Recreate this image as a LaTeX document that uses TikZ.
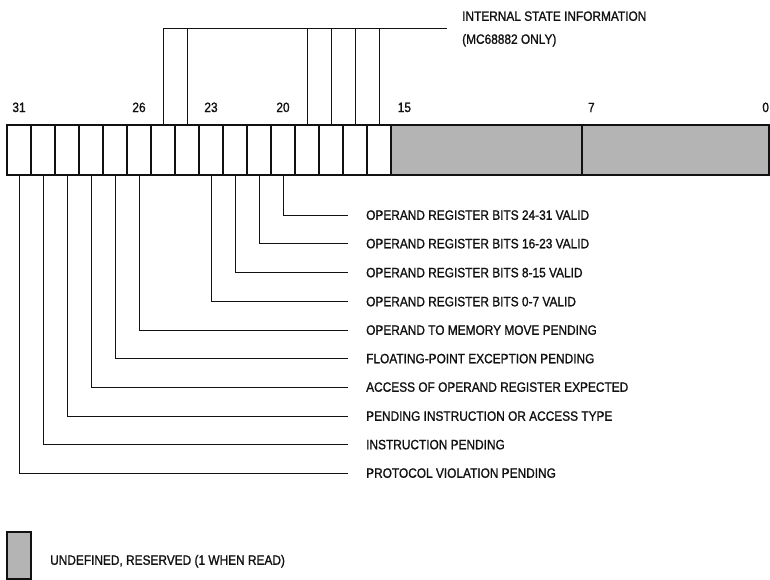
\documentclass[tikz,border=0pt]{standalone}
\usepackage{fontspec}
\setmainfont{Liberation Sans}[FakeStretch=0.88, FakeBold=1.2]
\usepackage{tikz}
\usetikzlibrary{positioning,calc}
\definecolor{reserved}{HTML}{B4B4B4}
\definecolor{ink}{HTML}{111111}

\tikzset{
  cell/.style={rectangle, draw=ink, line width=1.3pt, minimum width=24pt, minimum height=50pt, inner sep=0pt},
  undef/.style={cell, fill=reserved},
  bitno/.style={inner sep=0pt, font=\fontsize{13.5}{15}\selectfont, text=ink},
  field/.style={anchor=west, inner sep=0pt, text height=9.5pt, text depth=0pt, font=\fontsize{13.5}{15}\selectfont, text=ink},
  leader/.style={draw=ink, line width=1pt, shorten >=18pt}
}

\begin{document}
\begin{tikzpicture}[x=1pt, y=-1pt]
    \useasboundingbox (0,0) rectangle (770,580);

    % bits 31..16
    \node[cell] (b31) at (19,150) {};
    \node[cell] (b30) at (43,150) {};
    \node[cell] (b29) at (67,150) {};
    \node[cell] (b28) at (91,150) {};
    \node[cell] (b27) at (115,150) {};
    \node[cell] (b26) at (139,150) {};
    \node[cell] (b25) at (163,150) {};
    \node[cell] (b24) at (187,150) {};
    \node[cell] (b23) at (211,150) {};
    \node[cell] (b22) at (235,150) {};
    \node[cell] (b21) at (259,150) {};
    \node[cell] (b20) at (283,150) {};
    \node[cell] (b19) at (307,150) {};
    \node[cell] (b18) at (331,150) {};
    \node[cell] (b17) at (355,150) {};
    \node[cell] (b16) at (379,150) {};
    % bits 15..0
    \node[undef, minimum width=191pt] (hi) at (486.5,150) {};
    \node[undef, minimum width=187pt] (lo) at (675.5,150) {};

    % bit numbers
    \node[bitno, above=12pt of b31.north] (n31) {31};
    \node[bitno, above=12pt of b26.north] (n26) {26};
    \node[bitno, above=12pt of b23.north] (n23) {23};
    \node[bitno, above=12pt of b20.north] (n20) {20};
    \node[bitno, anchor=south] (n15) at ($(hi.north west)+(14,-12)$) {15};
    \node[bitno, anchor=south] (n7) at ($(lo.north west)+(10,-12)$) {7};
    \node[bitno, anchor=south] (n0) at ($(lo.north east)+(-4,-12)$) {0};

    % internal state
    \node[field, text height=, text depth=, align=left, font=\fontsize{13.5}{23}\selectfont] (info) at (462,29) {INTERNAL STATE INFORMATION\\(MC68882 ONLY)};
    \draw[leader, shorten >=15pt] (b25.north) |- (info.west);
    \draw[leader, shorten >=0pt] (b24.north) -- (b24.north |- info.west);
    \draw[leader, shorten >=0pt] (b19.north) -- (b19.north |- info.west);
    \draw[leader, shorten >=0pt] (b18.north) -- (b18.north |- info.west);
    \draw[leader, shorten >=0pt] (b17.north) -- (b17.north |- info.west);
    \draw[leader, shorten >=0pt] (b16.north) -- (b16.north |- info.west);

    % field names
    \node[field] (f20) at (366,215) {OPERAND REGISTER BITS 24-31 VALID};
    \node[field] (f21) at (366,243.5) {OPERAND REGISTER BITS 16-23 VALID};
    \node[field] (f22) at (366,272.5) {OPERAND REGISTER BITS 8-15 VALID};
    \node[field] (f23) at (366,301.5) {OPERAND REGISTER BITS 0-7 VALID};
    \node[field] (f26) at (366,330) {OPERAND TO MEMORY MOVE PENDING};
    \node[field] (f27) at (366,358.5) {FLOATING-POINT EXCEPTION PENDING};
    \node[field] (f28) at (366,387) {ACCESS OF OPERAND REGISTER EXPECTED};
    \node[field] (f29) at (366,416) {PENDING INSTRUCTION OR ACCESS TYPE};
    \node[field] (f30) at (366,444.5) {INSTRUCTION PENDING};
    \node[field] (f31) at (366,473) {PROTOCOL VIOLATION PENDING};

    \draw[leader] (b20.south) |- (f20.west);
    \draw[leader] (b21.south) |- (f21.west);
    \draw[leader] (b22.south) |- (f22.west);
    \draw[leader] (b23.south) |- (f23.west);
    \draw[leader] (b26.south) |- (f26.west);
    \draw[leader] (b27.south) |- (f27.west);
    \draw[leader] (b28.south) |- (f28.west);
    \draw[leader] (b29.south) |- (f29.west);
    \draw[leader] (b30.south) |- (f30.west);
    \draw[leader] (b31.south) |- (f31.west);

    % legend
    \node[undef, minimum height=47pt] (key) at (19,555.5) {};
    \node[field] (keytext) at (50,560) {UNDEFINED, RESERVED (1 WHEN READ)};
\end{tikzpicture}
\end{document}
